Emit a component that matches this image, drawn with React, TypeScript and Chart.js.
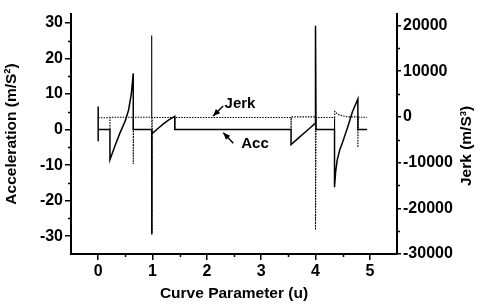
import React, { useEffect, useRef } from "react";
import { Chart, registerables } from "chart.js";

Chart.register(...registerables);

// ---- data ----
const X_TICKS = [0, 1, 2, 3, 4, 5];
const X_MINOR = [0.5, 1.5, 2.5, 3.5, 4.5];
const ACC_TICKS = [-30, -20, -10, 0, 10, 20, 30];
const ACC_MINOR = [-25, -15, -5, 5, 15, 25];
const JERK_TICKS = [-30000, -20000, -10000, 0, 10000, 20000];
const JERK_MINOR = [-25000, -15000, -5000, 5000, 15000];

const accU = [0, 0, 0, 0.217, 0.217, 0.3, 0.4, 0.5, 0.56, 0.61, 0.646, 0.646, 0.985, 0.985, 0.99, 1.1, 1.2, 1.3, 1.41, 1.41, 3.55, 3.55, 3.7, 3.85, 4.0, 4.0, 4.01, 4.35, 4.35, 4.37, 4.4, 4.45, 4.5, 4.59, 4.68, 4.78, 4.78, 4.95];
const accV = [6.5, -3.3, 0, 0, -8.5, -5, -1, 2.5, 5.5, 10, 15.8, 0, 0, -29.5, -1.2, 0.3, 1.6, 2.7, 3.7, 0, 0, -4.2, -2.2, -0.2, 1.8, 29.2, 0, 0, -16.2, -12, -8.5, -5.5, -3.5, 0.6, 5, 8.6, 0, 0];

const jerkU = [0, 0.217, 0.217, 0.22, 0.646, 0.646, 0.65, 0.985, 0.985, 0.99, 0.995, 1.41, 1.41, 1.415, 3.55, 3.55, 3.555, 4.0, 4.0, 4.01, 4.35, 4.35, 4.355, 4.42, 4.5, 4.6, 4.78, 4.78, 4.785, 4.95];
const jerkV = [-200, -200, -2800, -100, -100, -10300, -100, -100, 17800, -25400, -150, -150, -2500, -150, -150, -2800, 0, 0, -24700, -150, -150, -2800, 1200, 500, 200, 0, 0, -6700, -100, -100];

const X_TITLE = "Curve Parameter (u)";
const Y_TITLE = "Acceleration (m/S\u00B2)";
const Y1_TITLE = "Jerk (m/S\u00B3)";

// annotation anchors in data units (u, acceleration)
const LABELS = [
  { text: "Jerk", at: [2.61, 7.2], tail: [2.3, 6.6], tip: [2.115, 3.8] },
  { text: "Acc", at: [2.886, -4.05], tail: [2.487, -3.85], tip: [2.303, -0.87] },
];

const FONT = '"Liberation Sans", Arial, sans-serif';
const FS = 15.5;
const TICK_FS = 16;

export default function App() {
  const ref = useRef<HTMLCanvasElement | null>(null);

  useEffect(() => {
    if (!ref.current) return;
    const extras = {
      id: "extras",
      afterDraw(chart: any) {
        const { ctx, chartArea, scales } = chart;
        const x = scales.x, y = scales.y, y1 = scales.y1;
        ctx.save();
        ctx.strokeStyle = "#000";
        ctx.lineWidth = 1.5;
        // minor ticks
        ctx.beginPath();
        ACC_MINOR.forEach((v) => {
          const p = Math.round(y.getPixelForValue(v)) + 0.5;
          ctx.moveTo(chartArea.left - 3, p);
          ctx.lineTo(chartArea.left, p);
        });
        JERK_MINOR.forEach((v) => {
          const p = Math.round(y1.getPixelForValue(v)) + 0.5;
          ctx.moveTo(chartArea.right, p);
          ctx.lineTo(chartArea.right + 3, p);
        });
        X_MINOR.forEach((v) => {
          const p = Math.round(x.getPixelForValue(v)) + 0.5;
          ctx.moveTo(p, chartArea.bottom);
          ctx.lineTo(p, chartArea.bottom + 3);
        });
        ctx.stroke();
        // titles
        ctx.fillStyle = "#000";
        ctx.font = `bold ${FS}px ${FONT}`;
        ctx.textAlign = "center";
        ctx.textBaseline = "middle";
        ctx.fillText(X_TITLE, (chartArea.left + chartArea.right) / 2, 294);
        ctx.save();
        ctx.translate(12, (chartArea.top + chartArea.bottom) / 2);
        ctx.rotate(-Math.PI / 2);
        ctx.fillText(Y_TITLE, 0, 0);
        ctx.restore();
        ctx.save();
        ctx.translate(467, 146);
        ctx.rotate(-Math.PI / 2);
        ctx.fillText(Y1_TITLE, 0, 0);
        ctx.restore();
        // annotations
        ctx.font = `bold 15px ${FONT}`;
        LABELS.forEach((l) => {
          const tx = x.getPixelForValue(l.at[0]);
          const ty = y.getPixelForValue(l.at[1]);
          ctx.fillText(l.text, tx, ty);
          const ax = x.getPixelForValue(l.tail[0]);
          const ay = y.getPixelForValue(l.tail[1]);
          const bx = x.getPixelForValue(l.tip[0]);
          const by = y.getPixelForValue(l.tip[1]);
          ctx.beginPath();
          ctx.lineWidth = 1.5;
          ctx.moveTo(ax, ay);
          ctx.lineTo(bx, by);
          ctx.stroke();
          const ang = Math.atan2(by - ay, bx - ax);
          const hl = 7, hw = 3;
          ctx.beginPath();
          ctx.moveTo(bx, by);
          ctx.lineTo(bx - hl * Math.cos(ang) + hw * Math.sin(ang), by - hl * Math.sin(ang) - hw * Math.cos(ang));
          ctx.lineTo(bx - hl * Math.cos(ang) - hw * Math.sin(ang), by - hl * Math.sin(ang) + hw * Math.cos(ang));
          ctx.closePath();
          ctx.fill();
        });
        ctx.restore();
      },
    };

    const tickFont = { family: FONT, size: TICK_FS, weight: "bold" as const };
    const gridOpts = (len: number) => ({
      display: true,
      drawOnChartArea: false,
      drawTicks: true,
      tickLength: len,
      color: "#000",
      lineWidth: 1.5,
    });
    const plain = (v: any) => String(v);

    const chart = new Chart(ref.current, {
      type: "line",
      data: {
        datasets: [
          {
            label: "Acc",
            data: accU.map((u, i) => ({ x: u, y: accV[i] })),
            borderColor: "#000",
            borderWidth: 1.5,
            pointRadius: 0,
            yAxisID: "y",
            tension: 0,
          },
          {
            label: "Jerk",
            data: jerkU.map((u, i) => ({ x: u, y: jerkV[i] })),
            borderColor: "#000",
            borderWidth: 1.1,
            borderDash: [1.5, 1.2],
            pointRadius: 0,
            yAxisID: "y1",
            tension: 0,
          },
        ],
      },
      options: {
        animation: false,
        responsive: false,
        devicePixelRatio: 1,
        layout: { padding: { top: 14, left: 0, right: 0, bottom: 0 } },
        plugins: { legend: { display: false }, tooltip: { enabled: false } },
        scales: {
          x: {
            type: "linear",
            position: "bottom",
            min: -0.5,
            max: 5.5,
            grid: gridOpts(6),
            border: { display: true, color: "#000", width: 2 },
            ticks: { font: tickFont, color: "#000", padding: 2, maxRotation: 0, callback: plain },
            afterBuildTicks: (s: any) => {
              s.ticks = X_TICKS.map((v) => ({ value: v }));
            },
            afterFit: (s: any) => {
              s.height = 53;
            },
          },
          y: {
            type: "linear",
            position: "left",
            min: -35,
            max: 32.5,
            grid: gridOpts(6),
            border: { display: true, color: "#000", width: 2 },
            ticks: { font: tickFont, color: "#000", padding: 2, callback: plain },
            afterBuildTicks: (s: any) => {
              s.ticks = ACC_TICKS.map((v) => ({ value: v }));
            },
            afterFit: (s: any) => {
              s.width = 71;
            },
          },
          y1: {
            type: "linear",
            position: "right",
            min: -30000,
            max: 22500,
            grid: gridOpts(4),
            border: { display: true, color: "#000", width: 2 },
            ticks: { font: tickFont, color: "#000", padding: 2, callback: plain },
            afterBuildTicks: (s: any) => {
              s.ticks = JERK_TICKS.map((v) => ({ value: v }));
            },
            afterFit: (s: any) => {
              s.width = 80;
            },
          },
        },
      },
      plugins: [extras],
    });
    return () => chart.destroy();
  }, []);

  return (
    <div style={{ position: "fixed", left: 0, top: 0, width: 477, height: 307, background: "#fff" }}>
      <canvas ref={ref} width={477} height={307} style={{ width: 477, height: 307 }} />
    </div>
  );
}
